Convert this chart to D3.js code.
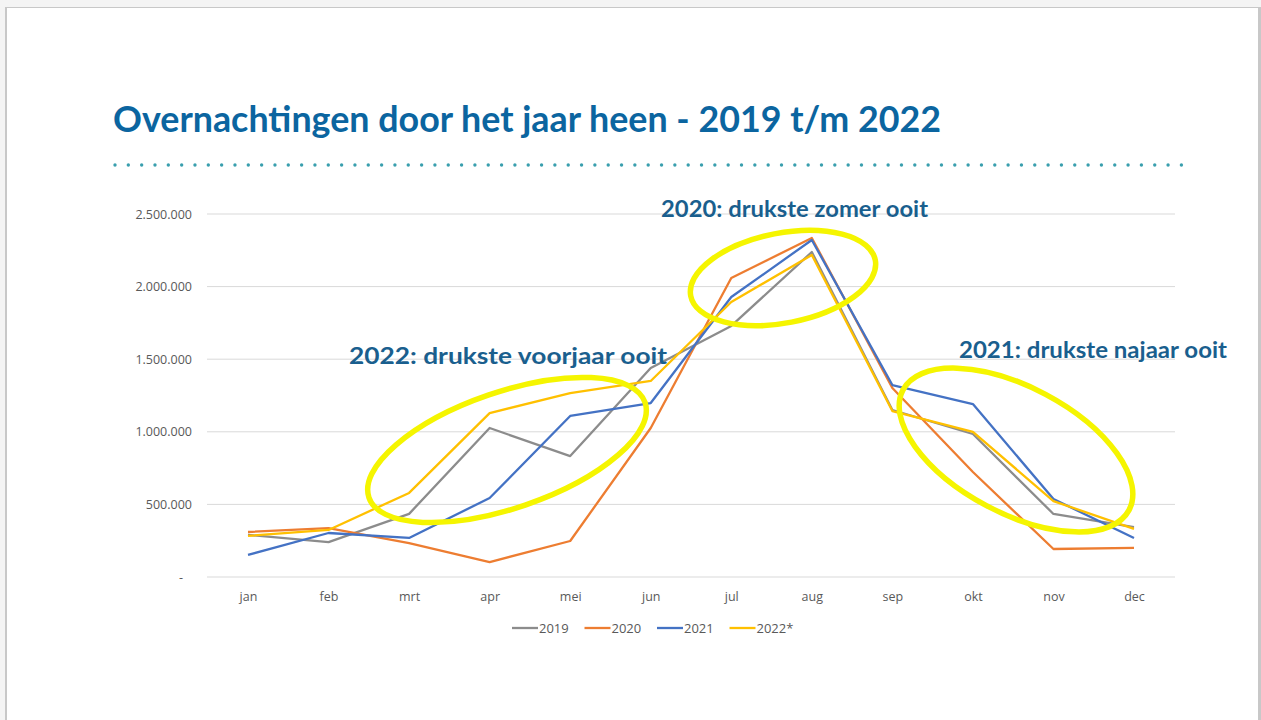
<!DOCTYPE html>
<html>
<head>
<meta charset="utf-8">
<style>
  body { margin: 0; background: #fff; }
  svg { display: block; }
  .grid line { stroke: #d9d9d9; stroke-width: 1px; }
  .axis text { font-family: "Open Sans", sans-serif; font-size: 12.5px; fill: #595959; }
  .note { font-family: Lato, sans-serif; font-weight: bold; font-size: 23px; fill: #1a5f8e; }
</style>
</head>
<body>
<svg width="1261" height="720"></svg>
<script src="https://d3js.org/d3.v7.min.js"></script>
<script>
var months = ["jan","feb","mrt","apr","mei","jun","jul","aug","sep","okt","nov","dec"];
var yTicks = [0, 500000, 1000000, 1500000, 2000000, 2500000];

var v2019 = [290000, 240000, 435000, 1026000, 833000, 1440000, 1729000, 2238000, 1150000, 985000, 434000, 344000];
var v2020 = [310000, 337000, 234000, 103000, 248000, 1026000, 2059000, 2335000, 1302000, 723000, 193000, 200000];
var v2021 = [152000, 303000, 269000, 544000, 1109000, 1198000, 1928000, 2321000, 1322000, 1191000, 537000, 269000];
var v2022 = [283000, 324000, 579000, 1129000, 1267000, 1350000, 1894000, 2218000, 1143000, 999000, 523000, 331000];

var seriesNames = ["2019", "2020", "2021", "2022*"];
var seriesColors = ["#8c8c8c", "#ed7d31", "#4472c4", "#ffc000"];
var seriesValues = [v2019, v2020, v2021, v2022];

var notes = [
  {text: "2022: drukste voorjaar ooit", x: 349, y: 364, w: 318},
  {text: "2020: drukste zomer ooit", x: 661, y: 217, w: 267},
  {text: "2021: drukste najaar ooit", x: 959, y: 358, w: 268}
];
// highlight ellipses: cx, cy, rx, ry, rotation
var rings = [
  [507, 450, 146, 58, -19],
  [783, 278, 94, 45, -11],
  [1016, 450, 128, 63, 28]
];

var svg = d3.select("svg");

// slide frame
svg.append("rect").attr("x", 0).attr("y", 0).attr("width", 1261).attr("height", 720).attr("fill", "#f4f4f4");
svg.append("rect").attr("x", 5).attr("y", 7).attr("width", 1256).attr("height", 713).attr("fill", "#c8c8c8");
svg.append("rect").attr("x", 7).attr("y", 8).attr("width", 1251).attr("height", 712).attr("fill", "#ffffff");

svg.append("text")
  .attr("x", 113).attr("y", 132)
  .attr("textLength", 828).attr("lengthAdjust", "spacingAndGlyphs")
  .style("font-family", "Lato, sans-serif").style("font-weight", "bold")
  .style("font-size", "37px").style("fill", "#0b65a0")
  .text("Overnachtingen door het jaar heen - 2019 t/m 2022");

svg.append("g").selectAll("circle")
  .data(d3.range(81))
  .join("circle")
  .attr("cx", d => 115 + d * 13.33).attr("cy", 165).attr("r", 1.7)
  .attr("fill", "#3a9fae");

var x = d3.scalePoint().domain(months).range([248, 1134]);
var y = d3.scaleLinear().domain([0, 2500000]).range([577, 214]);

svg.append("g").attr("class", "grid")
  .selectAll("line").data(yTicks).join("line")
  .attr("x1", 207).attr("x2", 1175)
  .attr("y1", d => y(d)).attr("y2", d => y(d));

var fmt = d => d === 0 ? "-" : d3.format(",")(d).replace(/,/g, ".");
var yAxis = svg.append("g").attr("class", "axis")
  .attr("transform", "translate(195,0)")
  .call(d3.axisLeft(y).tickValues(yTicks).tickFormat(fmt).tickSize(0));
yAxis.select(".domain").remove();
yAxis.selectAll("text").attr("dx", d => d === 0 ? -9 : 0);

var xAxis = svg.append("g").attr("class", "axis")
  .attr("transform", "translate(0,587)")
  .call(d3.axisBottom(x).tickSize(0));
xAxis.select(".domain").remove();
xAxis.selectAll("text").attr("dy", "0.9em");

var line = d3.line().x((d, i) => x(months[i])).y(d => y(d));

svg.append("g").selectAll("path")
  .data(seriesValues).join("path")
  .attr("d", line)
  .attr("fill", "none")
  .attr("stroke", (d, i) => seriesColors[i])
  .attr("stroke-width", 2.3)
  .attr("stroke-linejoin", "round");

// legend
var legend = svg.append("g").attr("class", "axis")
  .selectAll("g").data(seriesNames).join("g")
  .attr("transform", (d, i) => "translate(" + (512 + i * 72.5) + ",628)");
legend.append("line").attr("x1", 0).attr("x2", 26)
  .attr("stroke", (d, i) => seriesColors[i]).attr("stroke-width", 2.3);
legend.append("text").attr("x", 27).attr("y", 4.5)
  .style("font-size", "13px")
  .text(d => d);

svg.append("g").selectAll("ellipse")
  .data(rings).join("ellipse")
  .attr("cx", 0).attr("cy", 0)
  .attr("rx", d => d[2]).attr("ry", d => d[3])
  .attr("transform", d => "translate(" + d[0] + "," + d[1] + ") rotate(" + d[4] + ")")
  .attr("fill", "none").attr("stroke", "#f5f500").attr("stroke-width", 5.5);

svg.append("g").selectAll("text")
  .data(notes).join("text")
  .attr("class", "note")
  .attr("x", d => d.x).attr("y", d => d.y)
  .attr("textLength", d => d.w).attr("lengthAdjust", "spacingAndGlyphs")
  .text(d => d.text);
</script>
</body>
</html>
